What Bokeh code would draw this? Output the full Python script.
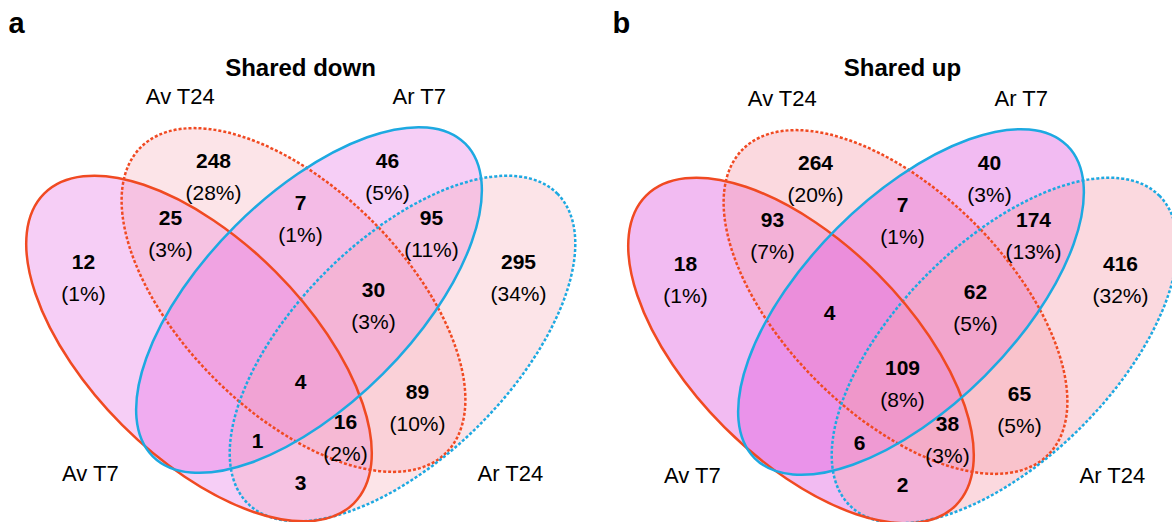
import math
from bokeh.plotting import figure
from bokeh.models import ColumnDataSource
from bokeh.core.properties import value
from bokeh.embed import file_html
from bokeh.resources import INLINE

# ---------------- data ----------------
set_names = ["Av T7", "Av T24", "Ar T7", "Ar T24"]
panel_titles = ["Shared down", "Shared up"]
panel_letters = ["a", "b"]

region_names = ["Av T7", "Av T24", "Ar T7", "Ar T24",
                "Av T7 & Av T24", "Av T24 & Ar T7", "Ar T7 & Ar T24", "Av T24 & Ar T24",
                "Av T7 & Av T24 & Ar T7", "Av T24 & Ar T7 & Ar T24",
                "Av T7 & Av T24 & Ar T24", "Av T7 & Ar T7 & Ar T24",
                "Av T7 & Ar T24", "All four"]
down_counts = [12, 248, 46, 295, 25, 7, 95, 89, None, 30, 16, 1, 3, 4]
down_pcts = ["1%", "28%", "5%", "34%", "3%", "1%", "11%", "10%", None, "3%", "2%", None, None, None]
up_counts = [18, 264, 40, 416, 93, 7, 174, 65, 4, 62, 38, 6, 2, 109]
up_pcts = ["1%", "20%", "3%", "32%", "7%", "1%", "13%", "5%", None, "5%", "3%", None, None, "8%"]

# ---------------- layout (pixels, y measured from bottom) ----------------
W, H = 1172, 522
panel_dx = [0, 602]
panel_dy = [0, -2]
# ellipse geometry per set: cx, cy, semi-major, semi-minor, angle(deg)
ell = {
    "Av T7": (198.5, 174.0, 219, 108.5, -45),
    "Av T24": (293.0, 222.5, 216, 111.5, -45),
    "Ar T7": (308.5, 222.5, 221, 104.5, 45),
    "Ar T24": (402.0, 174.0, 219, 108.5, 45),
}
line_colors = {"Av T7": "#F04A22", "Av T24": "#F04A22", "Ar T7": "#1DA9E1", "Ar T24": "#1DA9E1"}
dashed = {"Av T7": False, "Av T24": True, "Ar T7": False, "Ar T24": True}
fill_colors = {"Av T7": "#E15CE1", "Av T24": "#F5A5B2", "Ar T7": "#E15CE1", "Ar T24": "#F5A5B2"}
fill_alpha = [0.30, 0.42]

# label anchors (center of number/percent pair), panel-a pixel coords from top
anchors = [(83, 277), (213, 176), (387, 176), (518, 277),
           (170, 233), (300, 218), (431, 233), (417, 407),
           (227, 310), (373, 305), (345, 437), (257, 440),
           (300, 482), (300, 381)]
set_label_pos = {"Av T7": (90, 473), "Av T24": (180, 96), "Ar T7": (419, 96), "Ar T24": (510, 473)}

FONT = value("Liberation Sans")

p = figure(width=W, height=H, x_range=(0, W), y_range=(0, H),
           toolbar_location=None, output_backend="svg", min_border=0)
p.axis.visible = False
p.grid.visible = False
p.outline_line_color = None
p.background_fill_color = "white"
p.border_fill_color = "white"

for pi in range(2):
    dx, dy = panel_dx[pi], panel_dy[pi]
    # fills
    for s in set_names:
        cx, cy, a, b, ang = ell[s]
        p.ellipse(x=[cx + dx], y=[cy + dy], width=[2 * a], height=[2 * b],
                  angle=[math.radians(ang)], fill_color=fill_colors[s],
                  fill_alpha=fill_alpha[pi], line_color=None)
    # outlines
    for s in ["Av T24", "Ar T24", "Av T7", "Ar T7"]:
        cx, cy, a, b, ang = ell[s]
        kw = dict(line_dash="3 2") if dashed[s] else {}
        p.ellipse(x=[cx + dx], y=[cy + dy], width=[2 * a], height=[2 * b],
                  angle=[math.radians(ang)], fill_color=None,
                  line_color=line_colors[s], line_width=2.5, **kw)

    counts = down_counts if pi == 0 else up_counts
    pcts = down_pcts if pi == 0 else up_pcts
    nx, ny, nt, px_, py_, pt = [], [], [], [], [], []
    for (ax, ay), c, pc in zip(anchors, counts, pcts):
        if c is None:
            continue
        yb = H - ay + dy
        if pc is None:
            nx.append(ax + dx); ny.append(yb); nt.append(str(c))
        else:
            nx.append(ax + dx); ny.append(yb + 15.5); nt.append(str(c))
            px_.append(ax + dx); py_.append(yb - 15.5); pt.append("(" + pc + ")")
    p.text(x="x", y="y", text="t", source=ColumnDataSource(dict(x=nx, y=ny, t=nt)),
           text_font=FONT, text_font_size="21px", text_font_style="bold",
           text_align="center", text_baseline="middle", text_color="black")
    p.text(x="x", y="y", text="t", source=ColumnDataSource(dict(x=px_, y=py_, t=pt)),
           text_font=FONT, text_font_size="21px", text_font_style="normal",
           text_align="center", text_baseline="middle", text_color="black")

    # set labels
    p.text(x=[set_label_pos[s][0] + dx for s in set_names],
           y=[H - set_label_pos[s][1] + dy for s in set_names],
           text=set_names, text_font=FONT, text_font_size="22px",
           text_align="center", text_baseline="middle", text_color="black")
    # title
    p.text(x=[300 + dx], y=[H - 67], text=[panel_titles[pi]], text_font=FONT,
           text_font_size="24px", text_font_style="bold",
           text_align="center", text_baseline="middle", text_color="black")
    # panel letter
    p.text(x=[8 + dx + (2 if pi else 0)], y=[H - 22], text=[panel_letters[pi]], text_font=FONT,
           text_font_size="29px", text_font_style="bold",
           text_align="left", text_baseline="middle", text_color="black")

open("out.html", "w").write(file_html(p, INLINE))
